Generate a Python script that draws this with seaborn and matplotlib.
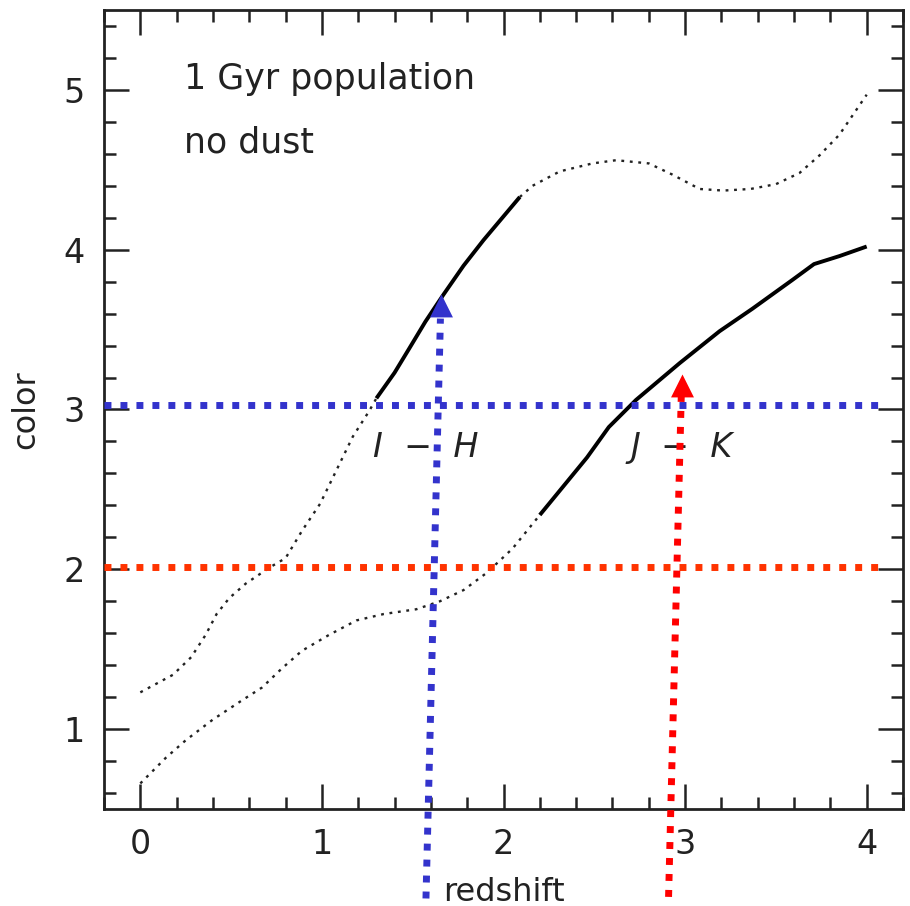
import numpy as np
import pandas as pd
import matplotlib
matplotlib.use("Agg")
import matplotlib.pyplot as plt
import seaborn as sns
from matplotlib.path import Path
from matplotlib.ticker import MultipleLocator

# ---------------- data ----------------
# I - H colour track (1 Gyr population, no dust)
ih_z = [0.00, 0.18, 0.28, 0.36, 0.42, 0.49, 0.58, 0.71, 0.80, 0.89, 0.99, 1.08,
        1.17, 1.26, 1.30, 1.40, 1.48, 1.57, 1.67, 1.78, 1.89, 2.09, 2.16, 2.31,
        2.49, 2.62, 2.80, 2.93, 3.08, 3.21, 3.36, 3.50, 3.63, 3.74, 3.85, 4.00]
ih_c = [1.23, 1.34, 1.45, 1.59, 1.72, 1.82, 1.91, 2.01, 2.07, 2.24, 2.41, 2.62,
        2.83, 2.99, 3.07, 3.23, 3.38, 3.55, 3.72, 3.90, 4.06, 4.33, 4.40, 4.49,
        4.54, 4.56, 4.54, 4.47, 4.38, 4.37, 4.38, 4.41, 4.48, 4.59, 4.72, 4.97]
ih_solid = (1.30, 2.09)

# J - K colour track
jk_z = [0.00, 0.14, 0.25, 0.40, 0.56, 0.67, 0.78, 0.89, 1.04, 1.19, 1.34, 1.52,
        1.65, 1.78, 1.91, 2.05, 2.20, 2.46, 2.58, 2.73, 2.97, 3.19, 3.37, 3.59,
        3.71, 3.85, 4.00]
jk_c = [0.66, 0.82, 0.93, 1.06, 1.18, 1.26, 1.38, 1.49, 1.59, 1.68, 1.72, 1.75,
        1.80, 1.87, 1.98, 2.13, 2.34, 2.70, 2.89, 3.06, 3.29, 3.49, 3.63, 3.81,
        3.91, 3.96, 4.02]
jk_solid = (2.20, 4.00)

# observed colours (horizontal guides)
ih_obs = 3.03
jk_obs = 2.015
guide_z = [-0.2, 4.08]

# redshift arrows (start -> tip)
blue_arrow_z = [1.573, 1.656]
blue_arrow_c = [-0.06, 3.72]
red_arrow_z = [2.909, 2.982]
red_arrow_c = [-0.05, 3.222]

x_ticks = [0, 1, 2, 3, 4]
y_ticks = [1, 2, 3, 4, 5]

BLUE = "#3333cc"
ORANGE = "#ff3300"
RED = "#ff0000"
INK = "#222222"

# ---------------- style ----------------
sns.set_theme(style="ticks")
plt.rcParams["font.family"] = ["DejaVu Sans"]
plt.rcParams["axes.linewidth"] = 2.0

fig = plt.figure(figsize=(9.10, 9.06), dpi=100)
ax = fig.add_axes([104 / 910, 97 / 906, 799 / 910, 799 / 906])


def track(z, c, solid):
    df = pd.DataFrame({"z": z, "c": c})
    lo, hi = solid
    pre = df[df.z <= lo]
    mid = df[(df.z >= lo) & (df.z <= hi)]
    post = df[df.z >= hi]
    dot = (0, (1.2, 2.4))
    for part in (pre, post):
        if len(part) > 1:
            sns.lineplot(data=part, x="z", y="c", ax=ax, sort=False, estimator=None,
                         color=INK, lw=1.7, linestyle=dot)
    sns.lineplot(data=mid, x="z", y="c", ax=ax, sort=False, estimator=None,
                 color="black", lw=2.8, solid_capstyle="butt")


track(ih_z, ih_c, ih_solid)
track(jk_z, jk_c, jk_solid)

sq = (0, (1.0, 1.3))
ax.plot(guide_z, [ih_obs, ih_obs], color=BLUE, lw=5, linestyle=sq, zorder=3)
ax.plot(guide_z, [jk_obs, jk_obs], color=ORANGE, lw=5, linestyle=sq, zorder=3)

# arrow head marker with tip at the origin
head = Path([(0, 0), (-0.5, -1), (0.5, -1), (0, 0)],
            [Path.MOVETO, Path.LINETO, Path.LINETO, Path.CLOSEPOLY])

for az, ac, col in ((blue_arrow_z, blue_arrow_c, BLUE), (red_arrow_z, red_arrow_c, RED)):
    frac = 0.96
    sz = [az[0], az[0] + (az[1] - az[0]) * frac]
    sc = [ac[0], ac[0] + (ac[1] - ac[0]) * frac]
    ax.plot(sz, sc, color=col, lw=5, linestyle=sq, clip_on=False, zorder=4)
    ax.plot([az[1]], [ac[1]], marker=head, markersize=33, color=col,
            markeredgewidth=0, linestyle="none", clip_on=False, zorder=5)

# ---------------- axes ----------------
ax.set_xlim(-0.2, 4.2)
ax.set_ylim(0.5, 5.5)
ax.set_xticks(x_ticks)
ax.set_yticks(y_ticks)
ax.xaxis.set_minor_locator(MultipleLocator(0.2))
ax.yaxis.set_minor_locator(MultipleLocator(0.2))
ax.tick_params(which="both", direction="in", top=True, right=True,
               color=INK, width=1.8)
ax.tick_params(which="major", length=18, labelsize=24, pad=14, labelcolor=INK)
ax.tick_params(which="minor", length=8.5)
for s in ax.spines.values():
    s.set_visible(True)
    s.set_color(INK)

ax.set_xlabel("redshift", fontsize=23, color=INK, labelpad=11)
ax.set_ylabel("color", fontsize=23, color=INK, labelpad=16)

ax.text(0.242, 5.07, "1 Gyr population", fontsize=25, color=INK,
        ha="left", va="center")
ax.text(0.242, 4.67, "no dust", fontsize=25, color=INK,
        ha="left", va="center")
ax.text(1.57, 2.76, "I  \u2212  H", fontsize=24, color=INK, fontstyle="italic",
        ha="center", va="center")
ax.text(2.98, 2.76, "J  \u2212  K", fontsize=24, color=INK, fontstyle="italic",
        ha="center", va="center")

fig.savefig("out.png", dpi=100, facecolor="white")
